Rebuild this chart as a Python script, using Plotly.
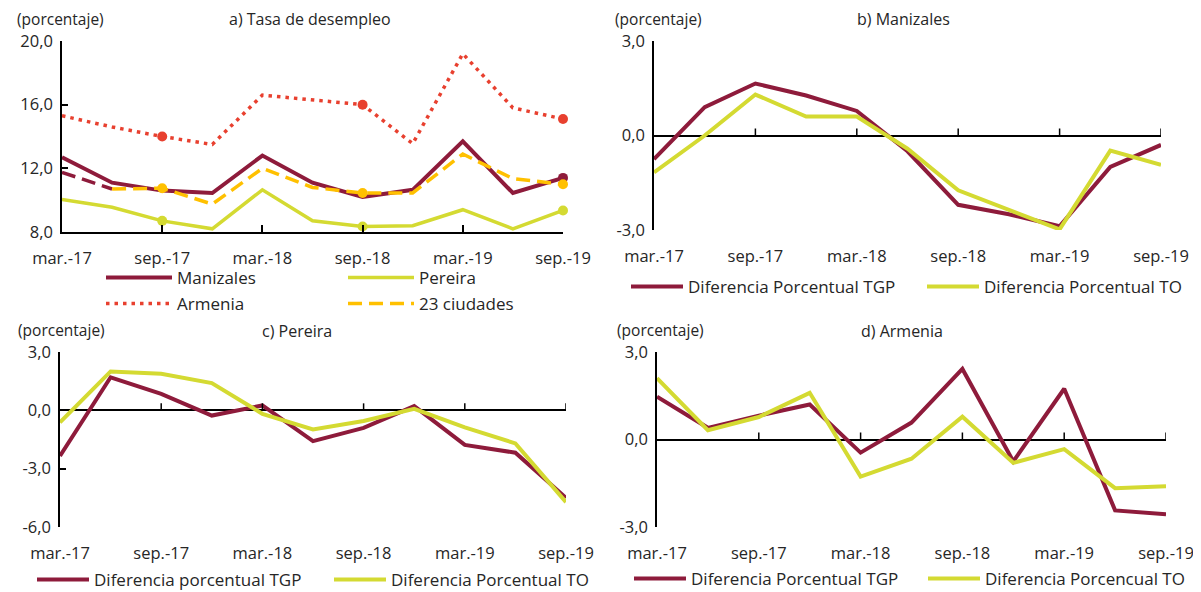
import plotly.graph_objects as go

W, H = 1201, 592
OFF = 8  # default page body margin of the browser
FW, FH = W - OFF, H - OFF

quarters = ["mar.-17", "jun.-17", "sep.-17", "dic.-17", "mar.-18", "jun.-18",
            "sep.-18", "dic.-18", "mar.-19", "jun.-19", "sep.-19"]
tick_labels = quarters[::2]

# a) Tasa de desempleo
manizales = [12.7, 11.1, 10.6, 10.45, 12.8, 11.1, 10.2, 10.65, 13.7, 10.45, 11.4]
pereira = [10.05, 9.55, 8.7, 8.2, 10.65, 8.7, 8.35, 8.4, 9.4, 8.2, 9.35]
armenia = [15.3, 14.6, 14.0, 13.5, 16.6, 16.3, 16.0, 13.55, 19.2, 15.8, 15.1]
ciudades23 = [11.75, 10.7, 10.75, 9.75, 12.0, 10.8, 10.45, 10.45, 12.9, 11.35, 11.0]
marker_idx = [2, 6, 10]

# b) Manizales
b_tgp = [-0.75, 0.9, 1.65, 1.27, 0.78, -0.5, -2.2, -2.5, -2.88, -1.0, -0.3]
b_to = [-1.17, 0.0, 1.3, 0.6, 0.6, -0.42, -1.74, -2.35, -2.98, -0.48, -0.93]

# c) Pereira
c_tgp = [-2.35, 1.7, 0.85, -0.27, 0.25, -1.58, -0.9, 0.22, -1.78, -2.18, -4.5]
c_to = [-0.62, 2.0, 1.88, 1.4, -0.18, -0.98, -0.55, 0.08, -0.88, -1.7, -4.72]

# d) Armenia
d_tgp = [1.47, 0.4, 0.82, 1.2, -0.45, 0.58, 2.42, -0.75, 1.74, -2.43, -2.56]
d_to = [2.1, 0.32, 0.77, 1.6, -1.27, -0.66, 0.78, -0.8, -0.33, -1.67, -1.6]

# y tick values / labels
ytick_a = [8, 12, 16, 20]
ytick_a_text = ["8,0", "12,0", "16,0", "20,0"]
ytick_bd = [-3, 0, 3]
ytick_bd_text = ["-3,0", "0,0", "3,0"]
ytick_c = [-6, -3, 0, 3]
ytick_c_text = ["-6,0", "-3,0", "0,0", "3,0"]

MAROON = "#8E1B3B"
LIME = "#D4DA32"
RED = "#E8402F"
ORANGE = "#FFC000"
FONT = "Open Sans"
TXT = "#262626"
DOTS = "3.5px,5px"
DASHES = "14px,7px"


def px_x(p):
    return (p - OFF) / FW


def px_y(p):
    return 1 - (p - OFF) / FH


fig = go.Figure()

# panel layout (page pixels): left, right, top, bottom
panels = {
    "1": (62, 563, 41, 232),
    "2": (654, 1161, 41, 230),
    "3": (60, 566, 352, 527),
    "4": (657, 1166, 352, 527),
}

# ---- panel a ----
fig.add_trace(go.Scatter(x=quarters, y=armenia, mode="lines", name="Armenia",
                         line=dict(color=RED, width=3.5, dash=DOTS),
                         xaxis="x", yaxis="y", legend="legend3"))
fig.add_trace(go.Scatter(x=quarters, y=pereira, mode="lines", name="Pereira",
                         line=dict(color=LIME, width=3.5),
                         xaxis="x", yaxis="y", legend="legend2"))
fig.add_trace(go.Scatter(x=quarters, y=manizales, mode="lines", name="Manizales",
                         line=dict(color=MAROON, width=4),
                         xaxis="x", yaxis="y", legend="legend"))
fig.add_trace(go.Scatter(x=quarters[:2], y=ciudades23[:2], mode="lines", showlegend=False,
                         line=dict(color=MAROON, width=3.5, dash=DASHES),
                         xaxis="x", yaxis="y"))
fig.add_trace(go.Scatter(x=quarters[1:], y=ciudades23[1:], mode="lines", name="23 ciudades",
                         line=dict(color=ORANGE, width=3.5, dash=DASHES),
                         xaxis="x", yaxis="y", legend="legend4"))
for series, color, idxs in [(armenia, RED, marker_idx), (pereira, LIME, marker_idx),
                            (manizales, MAROON, [10]), (ciudades23, ORANGE, marker_idx)]:
    fig.add_trace(go.Scatter(x=[quarters[i] for i in idxs], y=[series[i] for i in idxs],
                             mode="markers", showlegend=False, cliponaxis=False,
                             marker=dict(color=color, size=10),
                             xaxis="x", yaxis="y"))

# ---- panels b, c, d ----
legend_ids = {"2": ("legend5", "legend6"), "3": ("legend7", "legend8"), "4": ("legend9", "legend10")}
tgp_names = {"2": "Diferencia Porcentual TGP", "3": "Diferencia porcentual TGP",
             "4": "Diferencia Porcentual TGP"}
to_names = {"2": "Diferencia Porcentual TO", "3": "Diferencia Porcentual TO",
            "4": "Diferencia Porcencual TO"}
data = {"2": (b_tgp, b_to), "3": (c_tgp, c_to), "4": (d_tgp, d_to)}
for k, (tgp, to) in data.items():
    fig.add_trace(go.Scatter(x=quarters, y=tgp, mode="lines", name=tgp_names[k],
                             line=dict(color=MAROON, width=4),
                             xaxis="x" + k, yaxis="y" + k, legend=legend_ids[k][0]))
    fig.add_trace(go.Scatter(x=quarters, y=to, mode="lines", name=to_names[k],
                             line=dict(color=LIME, width=4),
                             xaxis="x" + k, yaxis="y" + k, legend=legend_ids[k][1]))

layout = dict(
    width=FW, height=FH, margin=dict(l=0, r=0, t=0, b=0, autoexpand=False),
    paper_bgcolor="white", plot_bgcolor="white",
    font=dict(family=FONT, size=16, color=TXT),
)

yranges = {"1": [8, 20], "2": [-3, 3], "3": [-6, 3], "4": [-3, 3]}
yticks = {"1": (ytick_a, ytick_a_text), "2": (ytick_bd, ytick_bd_text),
          "3": (ytick_c, ytick_c_text), "4": (ytick_bd, ytick_bd_text)}
xstandoff = {"1": 10, "2": 14, "3": 14, "4": 14}
for k, (l, r, t, b) in panels.items():
    xa = "xaxis" if k == "1" else "xaxis" + k
    ya = "yaxis" if k == "1" else "yaxis" + k
    yid = "y" if k == "1" else "y" + k
    xid = "x" if k == "1" else "x" + k
    layout[xa] = dict(
        domain=[px_x(l), px_x(r)], anchor=yid, type="category",
        range=[0, len(quarters) - 1], tickmode="array",
        tickvals=tick_labels, ticktext=tick_labels,
        showgrid=False, zeroline=False,
        showline=(k == "1"), linecolor="black", linewidth=1.5,
        ticks="inside" if k == "1" else "", ticklen=7, tickcolor="black", tickwidth=1.5,
        ticklabelstandoff=xstandoff[k], tickfont=dict(size=16.5, color=TXT),
    )
    layout[ya] = dict(
        domain=[px_y(b), px_y(t)], anchor=xid, range=yranges[k],
        tickmode="array", tickvals=yticks[k][0], ticktext=yticks[k][1],
        showgrid=False,
        zeroline=(k != "1"), zerolinecolor="black", zerolinewidth=1.5,
        showline=True, linecolor="black", linewidth=1.5,
        ticks="inside", ticklen=6, tickcolor="black", tickwidth=1.5,
        tickfont=dict(size=16.5, color=TXT), ticklabelstandoff=4,
    )

# tick marks on the zero line for panels b-d
shapes = []
for k in ["2", "3", "4"]:
    for q in tick_labels[1:]:
        shapes.append(dict(type="line", xref="x" + k, yref="y" + k,
                           x0=q, x1=q, ysizemode="pixel", yanchor=0, y0=0, y1=7,
                           line=dict(color="black", width=1.5)))
layout["shapes"] = shapes

# titles
ann = []
titles = [("a) Tasa de desempleo", 310, 19), ("b) Manizales", 903, 19),
          ("c) Pereira", 297, 331), ("d) Armenia", 902, 331)]
for text, x, y in titles:
    ann.append(dict(text=text, x=px_x(x), y=px_y(y), xref="paper", yref="paper",
                    showarrow=False, xanchor="center", yanchor="middle",
                    font=dict(size=16, color=TXT)))
for x, y in [(15, 19), (613, 19), (16, 330), (615, 330)]:
    ann.append(dict(text="(porcentaje)", x=px_x(x), y=px_y(y), xref="paper", yref="paper",
                    showarrow=False, xanchor="left", yanchor="middle",
                    font=dict(size=15.5, color=TXT)))
layout["annotations"] = ann

# legends (one per entry, placed at line start)
leg_pos = {
    "legend": (106, 278, 66), "legend2": (348, 278, 66),
    "legend3": (106, 304, 66), "legend4": (348, 304, 66),
    "legend5": (631, 287, 52), "legend6": (927, 287, 52),
    "legend7": (37, 580, 52), "legend8": (334, 580, 52),
    "legend9": (634, 579, 52), "legend10": (928, 579, 52),
}
for name, (x, y, iw) in leg_pos.items():
    layout[name] = dict(x=px_x(x - 5), y=px_y(y), xanchor="left", yanchor="middle",
                        orientation="h", bgcolor="rgba(0,0,0,0)", itemwidth=iw,
                        font=dict(size=17, color=TXT), tracegroupgap=0,
                        itemclick=False, itemdoubleclick=False)

fig.update_layout(**layout)
fig.write_html("out.html")
